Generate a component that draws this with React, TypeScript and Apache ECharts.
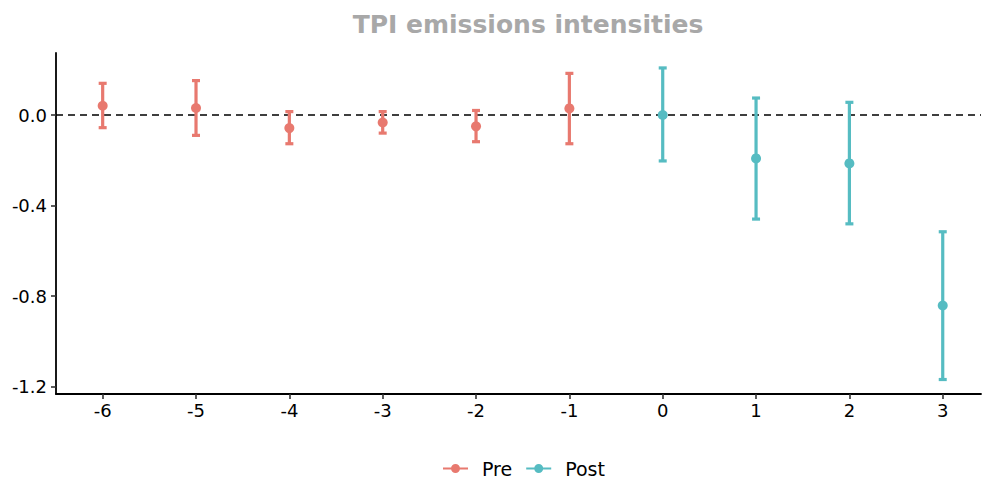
import React, { useEffect, useRef } from "react";
import * as echarts from "echarts";

const periods = [-6, -5, -4, -3, -2, -1, 0, 1, 2, 3];
const groups = ["Pre", "Pre", "Pre", "Pre", "Pre", "Pre", "Post", "Post", "Post", "Post"];
const estimates = [0.041, 0.031, -0.058, -0.033, -0.05, 0.029, 0.0, -0.192, -0.214, -0.842];
const upper = [0.14, 0.152, 0.015, 0.015, 0.02, 0.184, 0.208, 0.075, 0.056, -0.516];
const lower = [-0.056, -0.09, -0.127, -0.08, -0.118, -0.127, -0.203, -0.46, -0.481, -1.169];
const yTicks = [0, -0.4, -0.8, -1.2];
const xTicks = [-6, -5, -4, -3, -2, -1, 0, 1, 2, 3];
const groupNames = ["Pre", "Post"];
const colors: Record<string, string> = { Pre: "#E8796F", Post: "#56BCC2" };

const FONT = "DejaVu Sans";
const legendIcon =
  "path://M0,3.5 H25 V5.5 H0 Z M8,4.5 A4.5,4.5 0 1,1 17,4.5 A4.5,4.5 0 1,1 8,4.5 Z";

export default function App() {
  const ref = useRef<HTMLDivElement>(null);
  useEffect(() => {
    if (!ref.current) return;
    const chart = echarts.init(ref.current, undefined, { renderer: "svg" });

    const series: any[] = [];
    groupNames.forEach((g, gi) => {
      const idx = periods.map((_, i) => i).filter((i) => groups[i] === g);
      const color = colors[g];
      series.push({
        type: "custom",
        name: g,
        z: 3,
        data: idx.map((i) => [periods[i], lower[i], upper[i]]),
        renderItem: (params: any, api: any) => {
          const x = api.value(0);
          const lo = api.coord([x, api.value(1)]);
          const hi = api.coord([x, api.value(2)]);
          const hw = 4;
          const style = { stroke: color, lineWidth: 3.2, fill: "none" };
          return {
            type: "group",
            children: [
              { type: "line", shape: { x1: lo[0], y1: lo[1], x2: hi[0], y2: hi[1] }, style },
              { type: "line", shape: { x1: hi[0] - hw, y1: hi[1], x2: hi[0] + hw, y2: hi[1] }, style },
              { type: "line", shape: { x1: lo[0] - hw, y1: lo[1], x2: lo[0] + hw, y2: lo[1] }, style },
            ],
          };
        },
        itemStyle: { color },
        encode: { x: 0, y: [1, 2] },
        silent: true,
      });
      series.push({
        type: "scatter",
        name: g,
        z: 4,
        symbol: "circle",
        symbolSize: 10,
        itemStyle: { color, opacity: 1 },
        data: idx.map((i) => [periods[i], estimates[i]]),
        silent: true,
        markLine:
          gi === 0
            ? {
                silent: true,
                symbol: "none",
                label: { show: false },
                z: 2,
                lineStyle: { color: "#000", type: [7, 5], width: 1.7 },
                data: [{ yAxis: 0 }],
              }
            : undefined,
      });
    });

    chart.setOption({
      animation: false,
      title: {
        text: "TPI emissions intensities",
        left: 523,
        textAlign: "center",
        top: 7,
        textStyle: { fontFamily: FONT, fontWeight: "bold", fontSize: 25, color: "#A8A8A8" },
      },
      legend: {
        data: groupNames.map((g) => ({ name: g, icon: legendIcon, itemStyle: { color: colors[g] } })),
        left: 443,
        top: 459,
        padding: 0,
        itemWidth: 25,
        itemHeight: 9,
        itemGap: 14,
        textStyle: { fontFamily: FONT, fontSize: 19, color: "#000", padding: [0, 0, 0, 9] },
      },
      grid: { left: 56, right: 1, top: 53, bottom: 89, containLabel: false },
      xAxis: {
        type: "value",
        min: -6.5,
        max: 3.41,
        splitLine: { show: false },
        axisLine: { show: true, onZero: false, lineStyle: { color: "#000", width: 1.8 } },
        axisTick: { show: true, length: 5, customValues: xTicks, lineStyle: { color: "#333", width: 1.6 } },
        axisLabel: {
          customValues: xTicks,
          formatter: (v: number) => String(v),
          fontFamily: FONT,
          fontSize: 18,
          color: "#000",
          margin: 7,
        },
      },
      yAxis: {
        type: "value",
        min: -1.233,
        max: 0.274,
        splitLine: { show: false },
        axisLine: { show: true, onZero: false, lineStyle: { color: "#000", width: 1.8 } },
        axisTick: { show: true, length: 5, customValues: yTicks, lineStyle: { color: "#333", width: 1.6 } },
        axisLabel: {
          customValues: yTicks,
          formatter: (v: number) => v.toFixed(1),
          fontFamily: FONT,
          fontSize: 18,
          color: "#000",
          margin: 9,
        },
      },
      series,
    });
    return () => chart.dispose();
  }, []);
  return (
    <div
      ref={ref}
      style={{ position: "fixed", left: 0, top: 0, width: 982, height: 483, background: "#fff" }}
    />
  );
}
